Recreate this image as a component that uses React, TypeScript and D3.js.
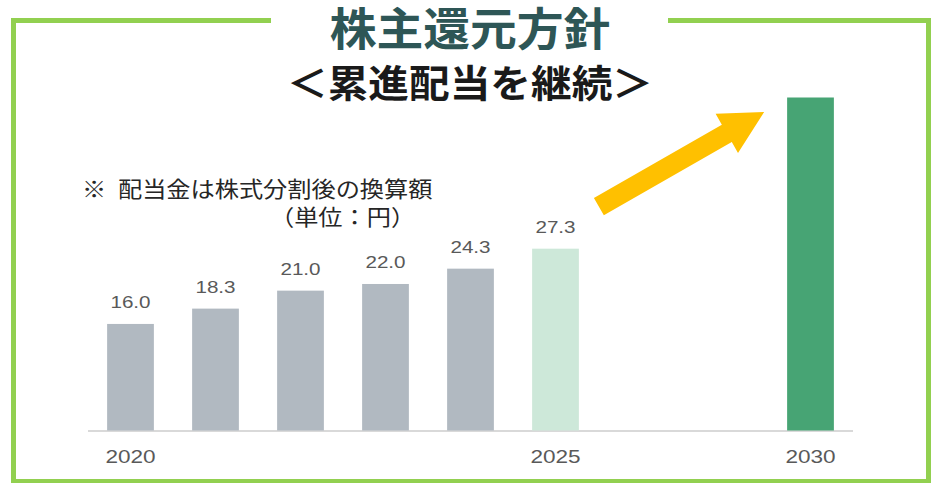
import React from "react";
import { scaleBand, scaleLinear, format } from "d3";

// slots on the x axis (two empty slots stand for the skipped years)
const categories = ["2020", "2021", "2022", "2023", "2024", "2025", "gap1", "gap2", "2030"];
const barYears = ["2020", "2021", "2022", "2023", "2024", "2025", "2030"];
const dividends = [16.0, 18.3, 21.0, 22.0, 24.3, 27.3, 50];
const barKinds = ["actual", "actual", "actual", "actual", "actual", "plan", "target"];
const labelled = [true, true, true, true, true, true, false];
const tickLabels = ["2020", "2025", "2030"];

const title = "株主還元方針";
const subtitle = "＜累進配当を継続＞";
const noteMark = "※";
const noteText = "配当金は株式分割後の換算額";
const unitText = "（単位：円）";

const kindColor = {
  actual: "#b1b9c1",
  plan: "#cde8d9",
  target: "#47a474",
};

const W = 935;
const H = 483;
const frame = "#92d050";
const labelFont = "'Liberation Sans', Arial, sans-serif";
const cjkFont = "'Noto Sans CJK JP', sans-serif";

function SText({ x, y, sx, children, ...rest }) {
  return (
    <text transform={`translate(${x},${y}) scale(${sx},1)`} {...rest}>
      {children}
    </text>
  );
}

function Arrow({ from, to, shaft, headW, headL, fill }) {
  const dx = to[0] - from[0];
  const dy = to[1] - from[1];
  const len = Math.hypot(dx, dy);
  const ux = dx / len, uy = dy / len;
  const nx = -uy, ny = ux;
  const bx = to[0] - ux * headL, by = to[1] - uy * headL;
  const pts = [
    [from[0] + nx * shaft / 2, from[1] + ny * shaft / 2],
    [bx + nx * shaft / 2, by + ny * shaft / 2],
    [bx + nx * headW / 2, by + ny * headW / 2],
    to,
    [bx - nx * headW / 2, by - ny * headW / 2],
    [bx - nx * shaft / 2, by - ny * shaft / 2],
    [from[0] - nx * shaft / 2, from[1] - ny * shaft / 2],
  ];
  return <polygon points={pts.map((p) => p.join(",")).join(" ")} fill={fill} />;
}

export default function App() {
  const x = scaleBand()
    .domain(categories)
    .range([88, 853])
    .paddingInner(0.45)
    .paddingOuter(0.225);
  const y = scaleLinear().domain([0, 50]).range([430.5, 97.5]);
  const fmt = format(".1f");
  const bw = x.bandwidth();

  const x2025 = x("2025") + bw;
  const x2030 = x("2030");

  return (
    <svg
      width={W}
      height={H}
      style={{ position: "absolute", left: 0, top: 0, background: "#fff" }}
    >
      {/* frame, broken at the top for the title */}
      <rect x={11} y={18} width={5} height={H - 18} fill={frame} />
      <rect x={11} y={18} width={260} height={5} fill={frame} />
      <rect x={668} y={18} width={263} height={5} fill={frame} />
      <rect x={926} y={18} width={5} height={H - 18} fill={frame} />
      <rect x={11} y={479} width={920} height={4} fill={frame} />

      <SText x={470} y={46} sx={1.04} textAnchor="middle" fontFamily={cjkFont}
        fontWeight={700} fontSize={45} fill="#2e5656">{title}</SText>
      <SText x={470} y={97} sx={1.07} textAnchor="middle" fontFamily={cjkFont}
        fontWeight={700} fontSize={38} fill="#1a1a1a">{subtitle}</SText>

      <SText x={82} y={197} sx={1.1} fontFamily={cjkFont} fontSize={22} fill="#262626">{noteMark}</SText>
      <SText x={118} y={197} sx={1.1} fontFamily={cjkFont} fontSize={22} fill="#262626">{noteText}</SText>
      <SText x={270} y={225} sx={1.1} fontFamily={cjkFont} fontSize={22} fill="#262626">{unitText}</SText>

      {/* baseline */}
      <line x1={88} x2={853} y1={431} y2={431} stroke="#d9d9d9" strokeWidth={2} />

      {barYears.map((yr, i) => (
        <rect
          key={yr}
          x={x(yr)}
          y={y(dividends[i])}
          width={bw}
          height={y(0) - y(dividends[i])}
          fill={kindColor[barKinds[i]]}
        />
      ))}

      {barYears.map((yr, i) =>
        labelled[i] ? (
          <SText key={`l-${yr}`} x={x(yr) + bw / 2} y={y(dividends[i]) - 15.5} sx={1.25}
            textAnchor="middle" fontFamily={labelFont} fontSize={16.5} fill="#595959">
            {fmt(dividends[i])}
          </SText>
        ) : null
      )}

      {tickLabels.map((t) => (
        <SText key={`t-${t}`} x={x(t) + bw / 2} y={462.5} sx={1.22} textAnchor="middle"
          fontFamily={labelFont} fontSize={18.5} fill="#595959">{t}</SText>
      ))}

      <Arrow
        from={[x2025 + 20, y(dividends[5]) - 42]}
        to={[x2030 - 23, y(dividends[6]) + 14.5]}
        shaft={20}
        headW={45}
        headL={43}
        fill="#ffc000"
      />
    </svg>
  );
}
